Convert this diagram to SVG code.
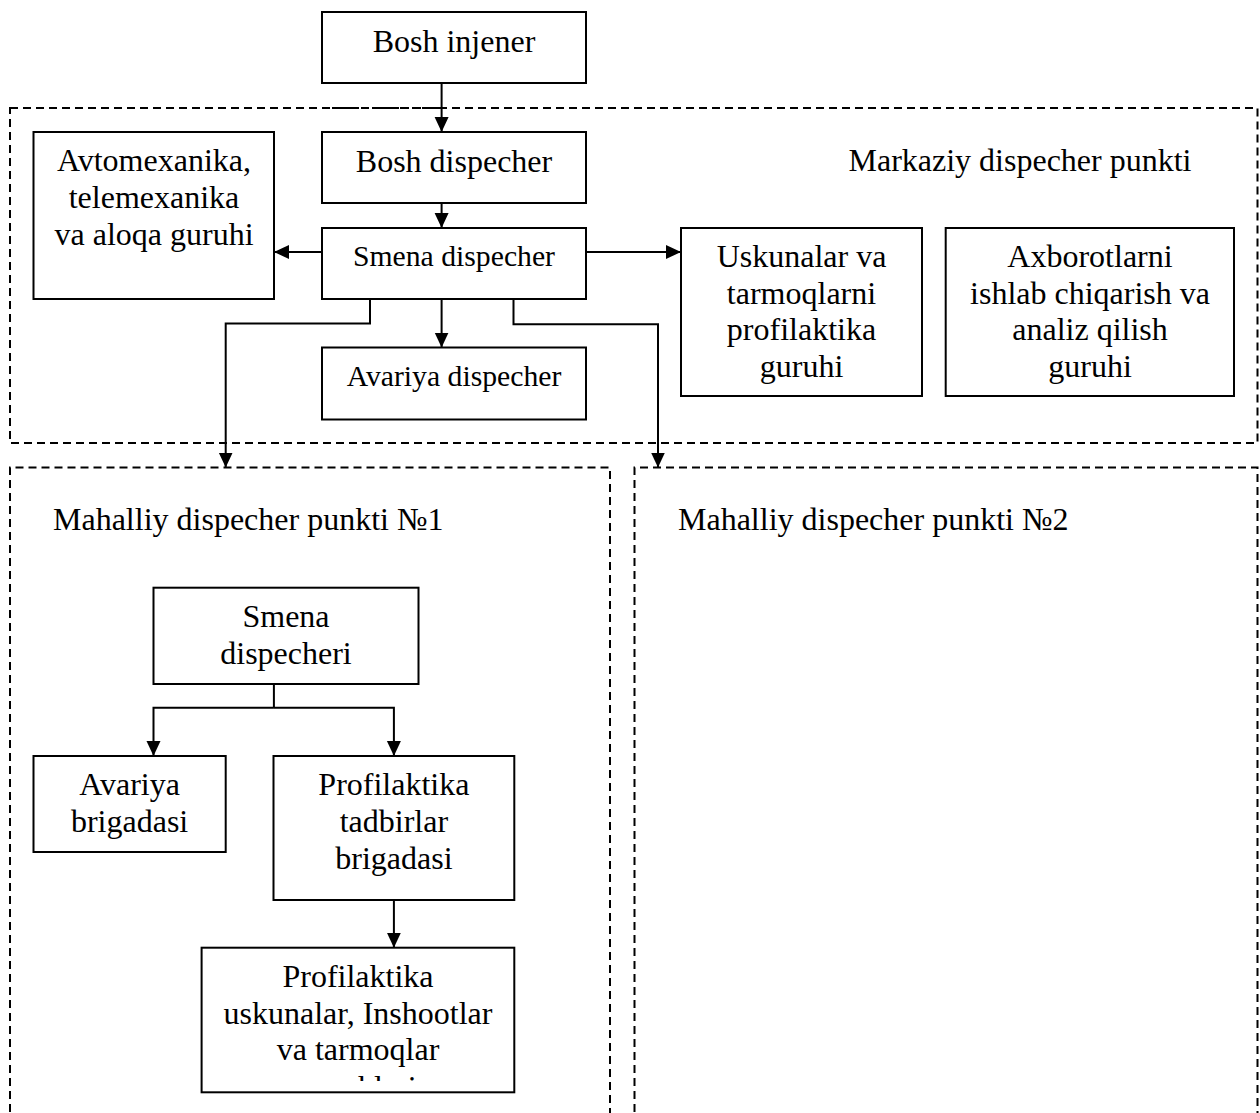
<svg xmlns="http://www.w3.org/2000/svg" width="1260" height="1113" viewBox="0 0 1260 1113">
  <style>
    text { font-family: "Liberation Serif", "Times New Roman", serif; font-size: 32px; fill: #000; }
    .c { text-anchor: middle; }
    .sm { font-size: 29.7px; }
    .box { fill: #fff; stroke: #000; stroke-width: 2; }
    .zone { fill: none; stroke: #000; stroke-width: 2; stroke-dasharray: 8 5; }
    .edge { fill: none; stroke: #000; stroke-width: 2; }
    .arrow { marker-end: url(#head); }
  </style>
  <defs>
    <marker id="head" markerUnits="userSpaceOnUse" markerWidth="16" markerHeight="15" refX="15" refY="7" orient="auto">
      <path d="M0,0 L15,7 L0,14 Z" fill="#000"/>
    </marker>
    <clipPath id="clip-last">
      <rect x="202" y="948" width="312" height="133"/>
    </clipPath>
  </defs>

  <rect width="1260" height="1113" fill="#fff"/>

  <!-- dashed zones -->
  <g id="zones">
    <rect id="zone-central" class="zone" x="10" y="108" width="1247.5" height="335"/>
    <line class="zone" x1="322" y1="108" x2="440" y2="108" style="stroke-dasharray: 7 3"/>
    <path id="zone-local-1" class="zone" d="M10,1125 L10,467.5 L610,467.5 L610,1125"/>
    <path id="zone-local-2" class="zone" d="M634.5,1125 L634.5,467.5 L1257.5,467.5 L1257.5,1125"/>
    <text x="848.5" y="171">Markaziy dispecher punkti</text>
    <text x="53" y="529.5">Mahalliy dispecher punkti №1</text>
    <text x="678" y="530">Mahalliy dispecher punkti №2</text>
  </g>

  <!-- connectors -->
  <g id="connectors">
    <line class="edge arrow" x1="441.6" y1="83" x2="441.6" y2="132"/>
    <line class="edge arrow" x1="441.6" y1="203" x2="441.6" y2="228"/>
    <line class="edge arrow" x1="322" y1="252" x2="274" y2="252"/>
    <line class="edge arrow" x1="586" y1="252" x2="681" y2="252"/>
    <line class="edge arrow" x1="441.6" y1="299" x2="441.6" y2="347.5"/>
    <polyline class="edge arrow" points="370,299 370,323.5 225.7,323.5 225.7,467.5"/>
    <polyline class="edge arrow" points="513.5,299 513.5,324.3 658,324.3 658,467.5"/>
    <line class="edge" x1="273.9" y1="684" x2="273.9" y2="707.7"/>
    <polyline class="edge arrow" points="273.9,707.7 153.5,707.7 153.5,756"/>
    <polyline class="edge arrow" points="273.9,707.7 393.9,707.7 393.9,756"/>
    <line class="edge arrow" x1="393.9" y1="900" x2="393.9" y2="947.7"/>
  </g>

  <!-- central dispatch nodes -->
  <g id="bosh-injener">
    <rect class="box" x="322" y="12" width="264" height="71"/>
    <text class="c" x="454" y="52">Bosh injener</text>
  </g>
  <g id="bosh-dispecher">
    <rect class="box" x="322" y="132" width="264" height="71"/>
    <text class="c" x="454" y="172">Bosh dispecher</text>
  </g>
  <g id="smena-dispecher">
    <rect class="box" x="322" y="228" width="264" height="71"/>
    <text class="c sm" x="454" y="265.5">Smena dispecher</text>
  </g>
  <g id="avariya-dispecher">
    <rect class="box" x="322" y="347.5" width="264" height="72"/>
    <text class="c sm" x="454" y="386">Avariya dispecher</text>
  </g>
  <g id="avtomexanika">
    <rect class="box" x="33.5" y="132" width="240.5" height="167"/>
    <text class="c" x="154" y="171">Avtomexanika,</text>
    <text class="c" x="154" y="207.8">telemexanika</text>
    <text class="c" x="154" y="244.6">va aloqa guruhi</text>
  </g>
  <g id="uskunalar">
    <rect class="box" x="681" y="228" width="241" height="168"/>
    <text class="c" x="801.5" y="266.7">Uskunalar va</text>
    <text class="c" x="801.5" y="303.5">tarmoqlarni</text>
    <text class="c" x="801.5" y="340.3">profilaktika</text>
    <text class="c" x="801.5" y="377.1">guruhi</text>
  </g>
  <g id="axborotlarni">
    <rect class="box" x="945.7" y="228" width="288.3" height="168"/>
    <text class="c" x="1090" y="266.7">Axborotlarni</text>
    <text class="c" x="1090" y="303.5">ishlab chiqarish va</text>
    <text class="c" x="1090" y="340.3">analiz qilish</text>
    <text class="c" x="1090" y="377.1">guruhi</text>
  </g>

  <!-- local dispatch point 1 nodes -->
  <g id="smena-dispecheri">
    <rect class="box" x="153.5" y="587.7" width="265" height="96.3"/>
    <text class="c" x="286" y="626.7">Smena</text>
    <text class="c" x="286" y="663.5">dispecheri</text>
  </g>
  <g id="avariya-brigadasi">
    <rect class="box" x="33.5" y="756" width="192.2" height="96"/>
    <text class="c" x="129.6" y="795">Avariya</text>
    <text class="c" x="129.6" y="831.8">brigadasi</text>
  </g>
  <g id="profilaktika-brigadasi">
    <rect class="box" x="273.5" y="756" width="240.8" height="144"/>
    <text class="c" x="393.9" y="795">Profilaktika</text>
    <text class="c" x="393.9" y="831.8">tadbirlar</text>
    <text class="c" x="393.9" y="868.6">brigadasi</text>
  </g>
  <g id="profilaktika-guruhlari">
    <rect class="box" x="201.6" y="947.7" width="312.7" height="144.6"/>
    <g clip-path="url(#clip-last)">
      <text class="c" x="358" y="986.7">Profilaktika</text>
      <text class="c" x="358" y="1023.5">uskunalar, Inshootlar</text>
      <text class="c" x="358" y="1060.3">va tarmoqlar</text>
      <text class="c" x="358" y="1097.5">guruhlari</text>
    </g>
  </g>
</svg>
